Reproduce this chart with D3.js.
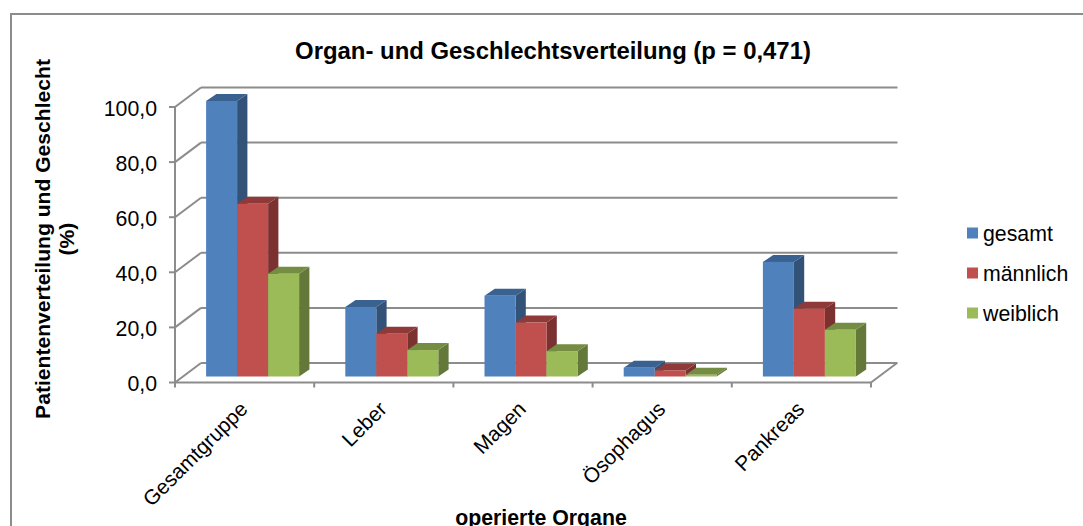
<!DOCTYPE html>
<html><head><meta charset="utf-8">
<script src="https://cdn.jsdelivr.net/npm/d3@7/dist/d3.min.js"></script>
<style>html,body{margin:0;padding:0;background:#fff}svg{display:block}text{font-family:"Liberation Sans",Arial,sans-serif;fill:#000}</style>
</head><body><svg id="c" width="1083" height="526"></svg>
<script>
const categories=["Gesamtgruppe","Leber","Magen","Ösophagus","Pankreas"];
const seriesNames=["gesamt","männlich","weiblich"];
const gesamt=[100,25.2,29.3,3.2,41.6];
const maennlich=[62.7,15.5,19.6,2.2,24.6];
const weiblich=[37.3,9.6,9.2,0.6,17.0];
const yTicks=[0,20,40,60,80,100];
const colors=["#4F81BD","#C0504D","#9BBB59"];
const tops=["#3A6291","#8F3A38","#748D42"];
const sides=["#325278","#7A3130","#64783A"];
const seriesValues=[gesamt,maennlich,weiblich];

const svg=d3.select("#c");
const x=d3.scaleBand().domain(categories).range([175,871]).paddingInner(0).paddingOuter(0);
const y=d3.scaleLinear().domain([0,100]).range([382.5,107]);
const dx=26,dy=-19.5,grid="#8C8C8C";
const barW=31,barDx=10.3,barDy=-7,shiftX=8,shiftY=-6;

svg.append("path").attr("d","M11,526V14H1083").attr("fill","none").attr("stroke","#8C8C8C").attr("stroke-width",2);

const g=svg.append("g").attr("fill","none").attr("stroke",grid).attr("stroke-width",2);
yTicks.forEach(t=>{
  const v=y(t);
  g.append("line").attr("x1",175+dx).attr("x2",871+dx+0.5).attr("y1",v+dy).attr("y2",v+dy);
  g.append("line").attr("x1",175).attr("x2",175+dx).attr("y1",v).attr("y2",v+dy);
  g.append("line").attr("x1",169).attr("x2",175).attr("y1",v).attr("y2",v);
  svg.append("text").attr("x",157).attr("y",v+1).attr("dy","0.36em").attr("text-anchor","end").attr("font-size",21.3).text(d3.format(".1f")(t).replace(".",","));
});
g.append("line").attr("x1",175).attr("x2",175).attr("y1",y(100)).attr("y2",y(0));
g.append("line").attr("x1",175).attr("x2",871).attr("y1",y(0)).attr("y2",y(0));
g.append("line").attr("x1",871).attr("x2",871+dx).attr("y1",y(0)).attr("y2",y(0)+dy);
x.domain().forEach(c=>g.append("line").attr("x1",x(c)).attr("x2",x(c)).attr("y1",y(0)).attr("y2",y(0)+5));
g.append("line").attr("x1",871).attr("x2",871).attr("y1",y(0)).attr("y2",y(0)+5);

const line=d3.line();
categories.forEach((c,ci)=>{
  const cx=x(c)+x.bandwidth()/2+shiftX;
  seriesValues.forEach((vals,si)=>{
    const x0=cx-1.5*barW+si*barW, x1=x0+barW, b=y(0)+shiftY, t=y(vals[ci])+shiftY;
    svg.append("path").attr("d",line([[x1,b],[x1+barDx,b+barDy],[x1+barDx,t+barDy],[x1,t]])+"Z").attr("fill",sides[si]);
    svg.append("path").attr("d",line([[x0,t],[x0+barDx,t+barDy],[x1+barDx,t+barDy],[x1,t]])+"Z").attr("fill",tops[si]);
    svg.append("rect").attr("x",x0).attr("y",t).attr("width",barW).attr("height",b-t).attr("fill",colors[si]);
  });
  const lx=x(c)+x.bandwidth()/2-6, ly=400;
  svg.append("text").attr("transform",`translate(${lx},${ly}) rotate(-45)`).attr("text-anchor","end").attr("dy","0.7em").attr("font-size",20.8).text(c);
});

svg.append("text").attr("x",553).attr("y",59).attr("text-anchor","middle").attr("font-size",23.9).attr("font-weight","bold").text("Organ- und Geschlechtsverteilung (p = 0,471)");
svg.append("text").attr("x",541).attr("y",525).attr("text-anchor","middle").attr("font-size",21.3).attr("font-weight","bold").text("operierte Organe");
const yt=svg.append("text").attr("transform","translate(50,239) rotate(-90)").attr("text-anchor","middle").attr("font-size",21.1).attr("font-weight","bold");
yt.append("tspan").attr("x",0).attr("y",0).text("Patientenverteilung und Geschlecht");
yt.append("tspan").attr("x",0).attr("y",24).text("(%)");

seriesNames.forEach((n,i)=>{
  const ly=233+i*40;
  svg.append("rect").attr("x",967).attr("y",ly-5.5).attr("width",11).attr("height",11).attr("fill",colors[i]);
  svg.append("text").attr("x",983).attr("y",ly).attr("dy","0.36em").attr("font-size",21.3).text(n);
});
</script></body></html>
